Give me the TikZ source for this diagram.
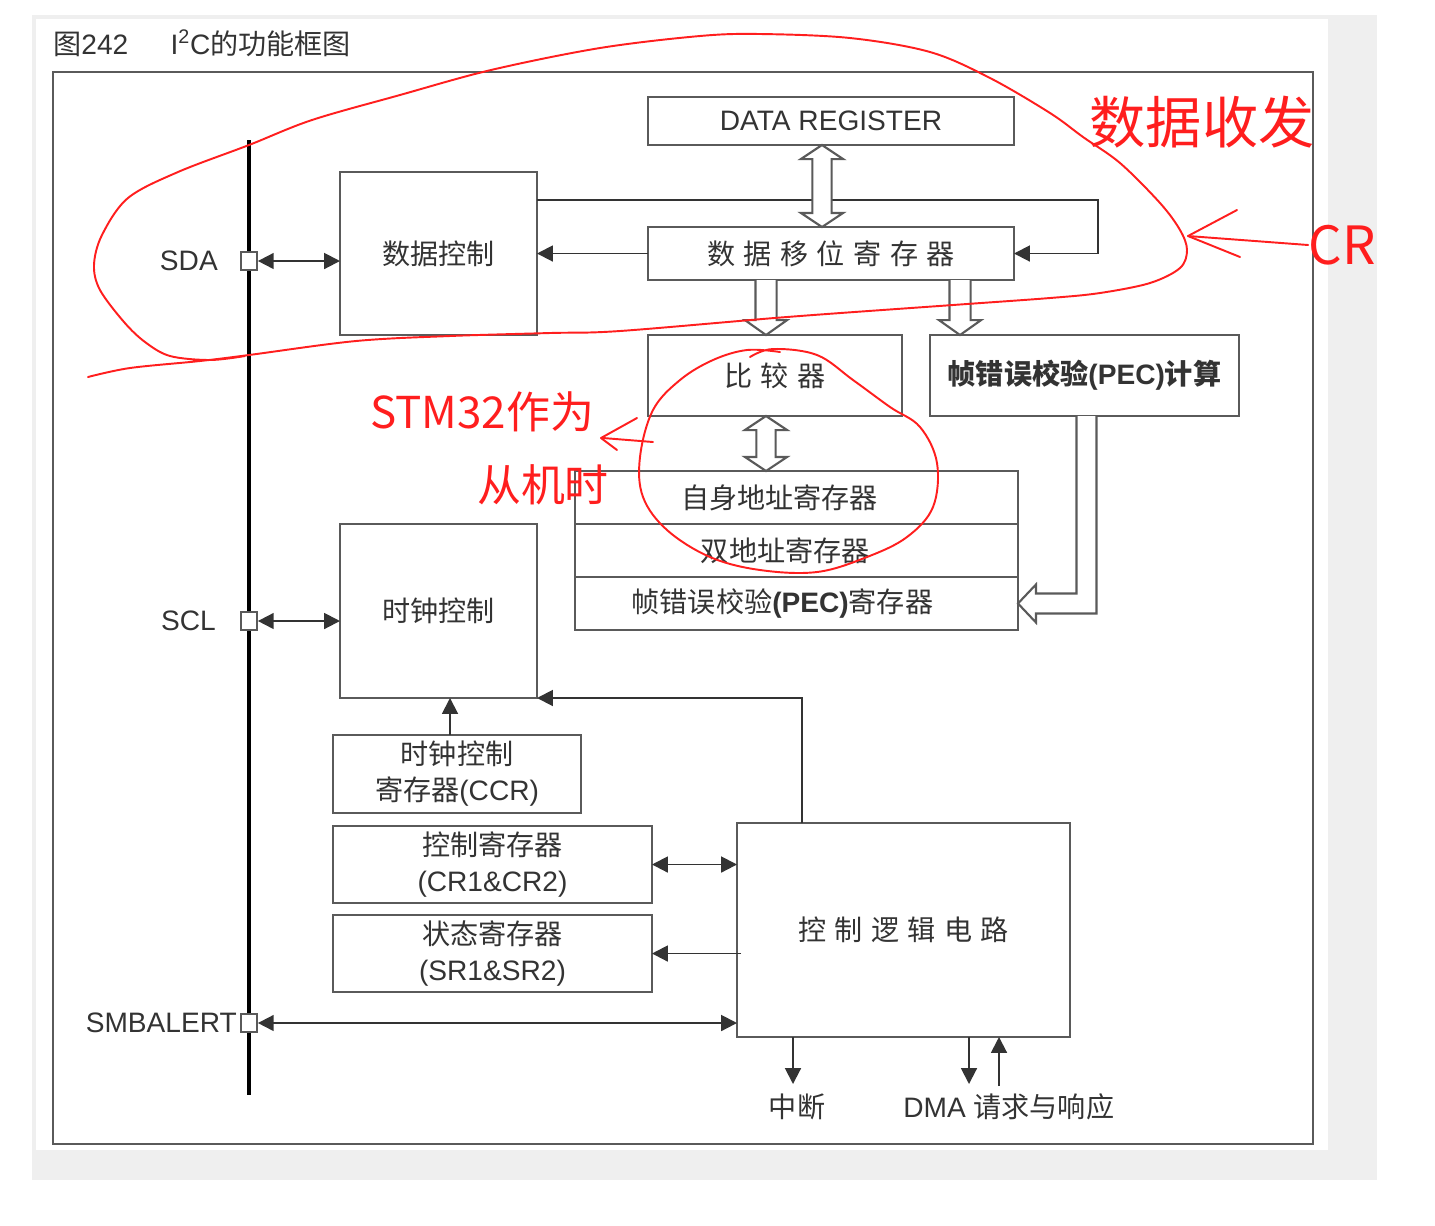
\documentclass[tikz,border=0pt]{standalone}
\usepackage{fontspec}
\setmainfont{Liberation Sans}
\newfontfamily\cjk{Noto Sans CJK SC}
\usepackage{tikz}
\usetikzlibrary{arrows.meta,calc,positioning}

\definecolor{linegray}{HTML}{5A5A5A}
\definecolor{inkgray}{HTML}{333333}
\definecolor{panelgray}{HTML}{EFEFEF}
\definecolor{penred}{HTML}{FF1E1E}

\newcommand{\gp}{\hspace{0.3em}}
% hollow bus arrows (#1 top point, #2 bottom point)
\newcommand{\dblbus}[2]{%
  \draw[bus] let \p1=#1, \p2=#2 in (\x1,\y1) -- (\x1+12pt,\y1-8pt) -- (\x1+5.5pt,\y1-8pt)
    -- (\x1+5.5pt,\y2+8pt) -- (\x1+12pt,\y2+8pt) -- (\x1,\y2) -- (\x1-12pt,\y2+8pt)
    -- (\x1-5.5pt,\y2+8pt) -- (\x1-5.5pt,\y1-8pt) -- (\x1-12pt,\y1-8pt) -- cycle;}
\newcommand{\downbus}[2]{%
  \draw[bus] let \p1=#1, \p2=#2 in (\x1-6pt,\y1) -- (\x1-6pt,\y2+8.5pt) -- (\x1-12pt,\y2+8.5pt)
    -- (\x1,\y2) -- (\x1+12pt,\y2+8.5pt) -- (\x1+6pt,\y2+8.5pt) -- (\x1+6pt,\y1);}

\begin{document}
\begin{tikzpicture}[x=0.02cm,y=-0.02cm,>={Triangle[length=9pt,width=9pt]},
    font=\fontsize{16}{20.5}\selectfont,
    box/.style={draw=linegray,line width=1.5pt,inner sep=0pt,outer sep=0pt,text=inkgray,align=center},
    lbl/.style={text=inkgray,inner sep=0pt},
    padbox/.style={draw=linegray,fill=white,line width=1pt,minimum width=0.32cm,minimum height=0.36cm,inner sep=0pt},
    arr/.style={draw=inkgray,line width=1.1pt},
    bus/.style={draw=linegray,fill=white,line width=1.2pt,line join=miter},
    pen/.style={draw=penred,line width=1.1pt,line cap=round,line join=round},
    hand/.style={text=penred,inner sep=0pt}]
    \useasboundingbox (0,0) rectangle (1435,1225);
    \fill[panelgray] (32,15) rectangle (1377,1180);
    \fill[white] (36,19) rectangle (1328,1150);
    \draw[linegray,line width=1.6pt] (53,72) rectangle (1313,1144);
    \node[lbl,anchor=west] (title) at (53,43) {{\cjk 图}242\hspace{24pt}I\textsuperscript{2}C{\cjk 的功能框图}};

    % bus line and pins
    \coordinate (bustop) at (249,140);
    \coordinate (busbot) at (249,1095);
    \draw[black,line width=2.8pt] (bustop) -- (busbot);
    \node[padbox] (sdapin) at (249,261) {};
    \node[padbox] (sclpin) at (249,621) {};
    \node[padbox] (smbpin) at (249,1023) {};
    \node[lbl,left=0.44cm of sdapin] (sda) {SDA};
    \node[lbl,left=0.48cm of sclpin] (scl) {SCL};
    \node[lbl,left=0.06cm of smbpin] (smb) {SMBALERT};

    % data path
    \node[box,minimum width=7.32cm,minimum height=0.96cm] (datareg) at (831,121) {DATA REGISTER};
    \node[box,minimum width=3.94cm,minimum height=3.26cm] (datactl) at (438.5,253.5) {\cjk 数据控制};
    \node[box,minimum width=7.32cm,minimum height=1.06cm] (shiftreg) at (831,253.5)
        {\cjk 数\gp 据\gp 移\gp 位\gp 寄\gp 存\gp 器};
    \node[box,minimum width=5.08cm,minimum height=1.62cm] (comp) at (775,375.5) {\cjk 比\gp 较\gp 器};
    \node[box,minimum width=6.18cm,minimum height=1.62cm] (peccalc) at (1084.5,375.5)
        {{\cjk\bfseries 帧错误校验}\textbf{(PEC)}{\cjk\bfseries 计算}};
    \node[box,minimum width=8.86cm,minimum height=1.06cm] (ownaddr) at (796.5,497.5) {\cjk 自身地址寄存器\hspace{1.2em}};
    \node[box,minimum width=8.86cm,minimum height=1.06cm,below=0pt of ownaddr] (dualaddr) {\cjk 双地址寄存器\hspace{0.8em}};
    \node[box,minimum width=8.86cm,minimum height=1.06cm,below=0pt of dualaddr] (pecreg)
        {{\cjk 帧错误校验}\textbf{(PEC)}{\cjk 寄存器}\hspace{1em}};

    % clock and control
    \node[box,minimum width=3.94cm,minimum height=3.48cm] (clkctl) at (438.5,611) {\cjk 时钟控制};
    \node[box,minimum width=4.96cm,minimum height=1.56cm] (ccr) at (457,774) {{\cjk 时钟控制}\\{\cjk 寄存器}(CCR)};
    \node[box,minimum width=6.38cm,minimum height=1.54cm] (crreg) at (492.5,864.5) {{\cjk 控制寄存器}\\(CR1\&CR2)};
    \node[box,minimum width=6.38cm,minimum height=1.54cm] (srreg) at (492.5,953.5) {{\cjk 状态寄存器}\\(SR1\&SR2)};
    \node[box,minimum width=6.66cm,minimum height=4.28cm] (logic) at (903.5,930)
        {\cjk 控\gp 制\gp 逻\gp 辑\gp 电\gp 路};
    \node[lbl] (irq) at (797,1107) {\cjk 中断};
    \node[lbl,anchor=west] (dma) at (903,1107) {DMA {\cjk 请求与响应}};
    \coordinate (ccrout) at ($(ccr.north)+(-7,0)$);
    \coordinate (irqtip) at (793,1084);
    \coordinate (dmareq) at (969,1084);
    \coordinate (dmaack) at (999,1086);

    % thin connectors
    \draw[arr,<->] (sdapin.east) -- (sdapin.east -| datactl.west);
    \draw[arr,<->] (sclpin.east) -- (sclpin.east -| clkctl.west);
    \draw[arr,<->] (smbpin.east) -- (smbpin.east -| logic.west);
    \draw[arr,->] (shiftreg.west) -- (shiftreg.west -| datactl.east);
    \draw[arr,->] ($(datactl.north east)+(0,28)$) -| ($(shiftreg.east)+(84,0)$) -- (shiftreg.east);
    \draw[arr,->] (ccrout) -- (ccrout |- clkctl.south);
    \draw[arr,->] ($(logic.north west)+(65,0)$) |- (clkctl.south east);
    \draw[arr,<->] (crreg.east) -- (crreg.east -| logic.west);
    \draw[arr,->] ($(logic.west |- srreg.east)+(4,0)$) -- (srreg.east);
    \draw[arr,->] (irqtip |- logic.south) -- (irqtip);
    \draw[arr,->] (dmareq |- logic.south) -- (dmareq);
    \draw[arr,->] (dmaack) -- (dmaack |- logic.south);

    % hollow bus arrows
    \dblbus{($(datareg.south)+(-9,0)$)}{(shiftreg.north)}
    \downbus{($(shiftreg.south)+(-65,0)$)}{(comp.north)}
    \downbus{($(shiftreg.south)+(129,0)$)}{(peccalc.north)}
    \dblbus{($(comp.south)+(-9,0)$)}{(ownaddr.north)}
    \draw[bus] ($(peccalc.south)+(-8,0)$) |- ($(pecreg.east)+(18,-10)$) -- ($(pecreg.east)+(18,-19)$)
        -- (pecreg.east) -- ($(pecreg.east)+(18,19)$) -- ($(pecreg.east)+(18,10)$) -| ($(peccalc.south)+(12,0)$);

    % red pen notes
    \draw[pen] plot[smooth,tension=0.55] coordinates {(88,377) (130,368) (200,361) (249,355) (356,341)
        (450,336) (550,333) (620,331) (787,317) (953,305) (1050,298) (1100,293) (1150,283) (1180,268)
        (1187,250) (1180,230) (1160,203) (1120,163) (1083,137) (1050,113) (990,78) (930,52) (850,38)
        (760,34) (700,36) (600,48) (491,70) (400,95) (312,120) (249,145) (178,172) (128,198) (102,235)
        (94,265) (100,290) (124,322) (145,342) (170,356) (210,360) (245,356)};
    \draw[pen] plot[smooth,tension=0.6] coordinates {(750,357) (773,349) (817,355) (853,380) (890,407)
        (920,427) (937,463) (933,507) (907,537) (867,557) (817,572) (760,570) (710,557) (667,530)
        (643,497) (640,457) (653,410) (680,380) (713,360) (747,350) (780,352)};
    \node[hand,font=\cjk\fontsize{32}{34}\selectfont] (rxtx) at (1202,122) {数据收发};
    \node[hand,font=\cjk\fontsize{30}{32}\selectfont] (crnote) at (1342,245) {CR};
    \node[hand,font=\cjk\fontsize{25}{27}\selectfont] (slave1) at (482,412) {STM32作为};
    \node[hand,font=\cjk\fontsize{25}{27}\selectfont] (slave2) at (543,485) {从机时};
    \coordinate (loopedge) at (1188,236);
    \coordinate (ovaledge) at (653,442);
    \draw[pen] (crnote.west) -- (loopedge);
    \draw[pen] (1237,210) -- (loopedge) -- (1240,257);
    \draw[pen] (ovaledge) -- (603,438);
    \draw[pen] (637,418) -- (601,438) -- (617,450);
\end{tikzpicture}
\end{document}
